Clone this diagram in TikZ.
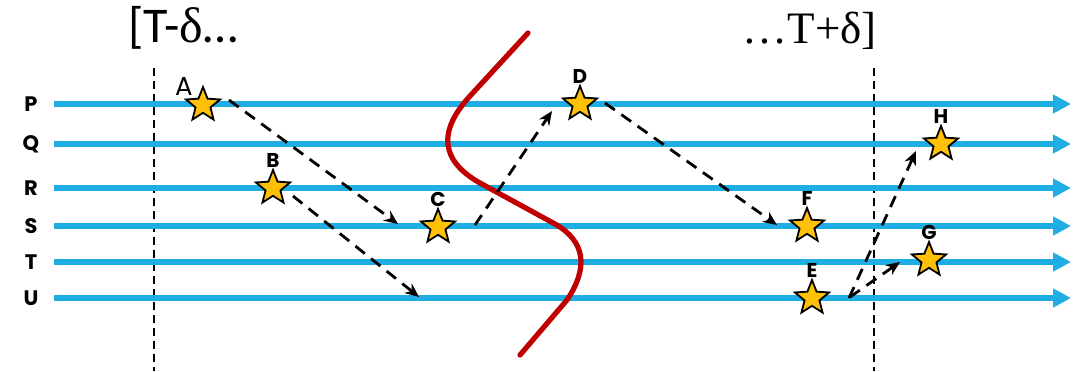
\documentclass[tikz,border=0pt]{standalone}
\usepackage{fontspec}
\usepackage{tikz}
\usetikzlibrary{shapes.geometric,arrows.meta}
\newfontfamily\titlesans{Carlito}
\newfontfamily\titleserif{Liberation Serif}
\newfontfamily\lblfont{Poppins}
\definecolor{wireblue}{RGB}{30,174,228}
\definecolor{staryellow}{RGB}{255,193,7}
\definecolor{cutred}{RGB}{192,0,0}

\begin{document}
\begin{tikzpicture}[x=0.5pt, y=-0.5pt,
    wire/.style={line width=3pt, wireblue, -{Triangle[length=9pt,width=9pt]}},
    side/.style={font=\lblfont\bfseries\fontsize{10.5}{12}\selectfont, inner sep=0pt},
    event/.style={star, star points=5, star point ratio=2.3, minimum size=18pt,
        inner sep=0pt, fill=staryellow, draw=black, line width=0.9pt,
        label distance=1pt},
    every label/.style={font=\lblfont\bfseries\fontsize{10}{12}\selectfont, inner sep=0pt},
    flow/.style={line width=1.4pt, dash pattern=on 6pt off 4pt,
        -{Stealth[length=7pt,width=6pt]}},
    bound/.style={line width=0.8pt, dash pattern=on 4pt off 2.5pt}]
    \useasboundingbox (0,0) rectangle (1087,371);

    % --- window ---
    \node[inner sep=0pt, anchor=base west] (lo) at (128,42)
        {\fontsize{25}{28}\selectfont\titlesans [T-{\titleserif δ}…};
    \node[inner sep=0pt, anchor=base east] (hi) at (877,43)
        {\fontsize{22.5}{28}\selectfont\titleserif …T+δ]};
    \draw[bound] (154,68) -- (154,371);
    \draw[bound] (874,68) -- (874,371);

    % --- processes ---
    \foreach \p/\y in {P/104,Q/144,R/188,S/226,T/262,U/298} {
        \node[side] (l\p) at (31,\y) {\p};
        \draw[wire] (54,\y) coordinate (\p0) -- (1071,\y) coordinate (\p1);
    }

    % --- cut ---
    \draw[cutred, line width=2.6pt, line cap=round]
        (528,33) -- (470,96) .. controls (437,132) and (441,161) .. (480,183)
        -- (555,224) .. controls (585,241) and (589,267) .. (567,300) -- (520,355);

    % --- events ---
    \node[event] (A) at (203,105) {};
    \node[font=\lblfont\fontsize{13}{14}\selectfont, inner sep=0pt] (lA)
        at ([shift={(-9.5pt,9.5pt)}]A.center) {A};
    \node[event, label=above:B] (B) at (273,188) {};
    \node[event, label=above:C] (C) at (438,227) {};
    \node[event, label=above:D] (D) at (580,104) {};
    \node[event, label=above:E] (E) at (812,298) {};
    \node[event, label=above:F] (F) at (807,226) {};
    \node[event, label=above:G] (G) at (929,260) {};
    \node[event, label=above:H] (H) at (941,144) {};
    \coordinate (u1) at (419,297);

    % --- messages ---
    \draw[flow] ([shift={(13pt,2.5pt)}]A.center) -- ([shift={(-20pt,1.5pt)}]C.center);
    \draw[flow] ([shift={(10pt,-4pt)}]B.center) -- (u1);
    \draw[flow] ([shift={(18.5pt,1pt)}]C.center) -- ([shift={(-14pt,-3.5pt)}]D.center);
    \draw[flow] ([shift={(12.5pt,0.5pt)}]D.center) -- ([shift={(-15pt,0.5pt)}]F.center);
    \draw[flow] ([shift={(18.5pt,0pt)}]E.center) -- ([shift={(-12.5pt,-3.5pt)}]H.center);
    \draw[flow] ([shift={(19pt,0.5pt)}]E.center) -- ([shift={(-14.5pt,-1pt)}]G.center);
\end{tikzpicture}
\end{document}
